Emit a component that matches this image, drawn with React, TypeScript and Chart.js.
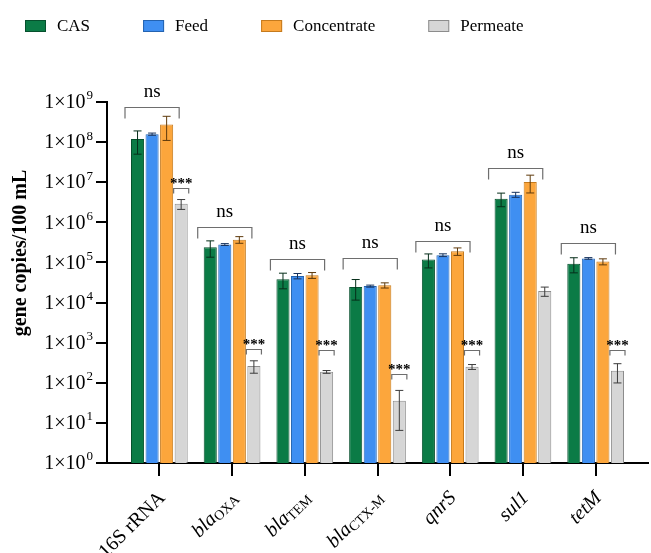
import React, { useEffect, useRef } from "react";
import { Chart, registerables } from "chart.js";

Chart.register(...registerables);

// Target genes (x categories)
const genes = ["16S rRNA", "blaOXA", "blaTEM", "blaCTX-M", "qnrS", "sul1", "tetM"];

// Gene label typography: [text, style] with r = regular, i = italic, s = subscript
const geneLabelParts: [string, string][][] = [
  [["16S rRNA", "r"]],
  [["bla", "i"], ["OXA", "s"]],
  [["bla", "i"], ["TEM", "s"]],
  [["bla", "i"], ["CTX-M", "s"]],
  [["qnrS", "i"]],
  [["sul1", "i"]],
  [["tetM", "i"]],
];

// Sample types
const sampleNames = ["CAS", "Feed", "Concentrate", "Permeate"];

// Gene copies / 100 mL (mean and standard deviation)
const casMean = [1.2e8, 2.4e5, 3.8e4, 2.45e4, 1.18e5, 3.9e6, 9.3e4];
const casSd = [7e7, 1.05e5, 1.6e4, 1.3e4, 4.5e4, 1.45e6, 3.8e4];
const feedMean = [1.58e8, 2.8e5, 4.6e4, 2.57e4, 1.52e5, 4.9e6, 1.26e5];
const feedSd = [1.0e7, 1.5e4, 7e3, 1.5e3, 1.2e4, 7e5, 6e3];
const concMean = [2.75e8, 3.7e5, 4.8e4, 2.7e4, 1.9e5, 1.02e7, 1.05e5];
const concSd = [1.65e8, 7e4, 8e3, 4e3, 4e4, 4.8e6, 1.8e4];
const permMean = [2.9e6, 263, 187, 35.5, 250, 1.93e4, 199];
const permSd = [8e5, 90, 15, 29, 35, 5e3, 100];

// Significance among CAS / Feed / Concentrate, and the level of its bracket
const groupTest = ["ns", "ns", "ns", "ns", "ns", "ns", "ns"];
const groupBracketLevel = [7.7e8, 7.7e5, 1.24e5, 1.31e5, 3.39e5, 2.27e7, 3.09e5];
// Significance of Permeate vs. the others, and the level of its bracket
const permTest = ["***", "***", "***", "***", "***", "", "***"];
const permBracketLevel = [7.2e6, 686, 658, 164, 646, 0, 658];

// Y axis decades (10^0 ... 10^9)
const yPowers = [0, 1, 2, 3, 4, 5, 6, 7, 8, 9];

const fillColors = ["#0b7b46", "#3f8ff2", "#fca63c", "#d6d6d6"];
const borderColors = ["#06502d", "#2463b0", "#c57a1d", "#8c8c8c"];
const errorColors = ["#062e1a", "#17335e", "#5e3a0c", "#3c3c3c"];

const SERIF = '"Liberation Serif", "Times New Roman", serif';

const decorations = {
  id: "decorations",
  afterDatasetsDraw(chart: any) {
    const { ctx } = chart;
    const ys = chart.scales.y;
    ctx.save();
    chart.data.datasets.forEach((ds: any, di: number) => {
      const meta = chart.getDatasetMeta(di);
      meta.data.forEach((bar: any, i: number) => {
        const m = ds.data[i].y;
        const s = ds.sd[i];
        const top = ys.getPixelForValue(m + s);
        const bot = ys.getPixelForValue(Math.max(m - s, ys.min));
        const cap = 4;
        ctx.strokeStyle = ds.errorColor;
        ctx.lineWidth = 1;
        ctx.beginPath();
        ctx.moveTo(bar.x, top);
        ctx.lineTo(bar.x, bot);
        ctx.moveTo(bar.x - cap, top);
        ctx.lineTo(bar.x + cap, top);
        ctx.moveTo(bar.x - cap, bot);
        ctx.lineTo(bar.x + cap, bot);
        ctx.stroke();
      });
    });
    ctx.restore();
  },
  afterDraw(chart: any) {
    const { ctx, chartArea } = chart;
    const ys = chart.scales.y;
    const xs = chart.scales.x;
    ctx.save();
    ctx.fillStyle = "#000";

    // Y tick labels: 1×10^n
    ctx.textBaseline = "middle";
    ctx.textAlign = "left";
    const rightEdge = chartArea.left - 14;
    yPowers.forEach((p) => {
      const py = ys.getPixelForValue(Math.pow(10, p));
      ctx.font = `20px ${SERIF}`;
      const base = "1×10";
      const wb = ctx.measureText(base).width;
      ctx.font = `13px ${SERIF}`;
      const sup = String(p);
      const ws = ctx.measureText(sup).width;
      const x0 = rightEdge - ws - wb - 1;
      ctx.font = `20px ${SERIF}`;
      ctx.fillText(base, x0, py + 1);
      ctx.font = `13px ${SERIF}`;
      ctx.fillText(sup, x0 + wb + 1, py - 6);
    });

    // Y axis title
    ctx.save();
    ctx.translate(21, 253);
    ctx.rotate(-Math.PI / 2);
    ctx.textAlign = "center";
    ctx.textBaseline = "middle";
    ctx.font = `bold 20px ${SERIF}`;
    ctx.fillText("gene copies/100 mL", 0, 0);
    ctx.restore();

    // X tick labels, rotated 45°
    const tickBottom = chartArea.bottom + 14;
    geneLabelParts.forEach((parts, i) => {
      const cx = xs.getPixelForValue(i + 1);
      const fontFor = (st: string) =>
        st === "i" ? `italic 20px ${SERIF}` : st === "s" ? `14px ${SERIF}` : `20px ${SERIF}`;
      let total = 0;
      const widths = parts.map(([t, st]) => {
        ctx.font = fontFor(st);
        const w = ctx.measureText(t).width;
        total += w;
        return w;
      });
      ctx.save();
      ctx.translate(cx + 3, tickBottom + 18);
      ctx.rotate(-Math.PI / 4);
      ctx.textAlign = "left";
      ctx.textBaseline = "middle";
      let x = -total;
      parts.forEach(([t, st], k) => {
        ctx.font = fontFor(st);
        ctx.fillText(t, x, st === "s" ? 4 : 0);
        x += widths[k];
      });
      ctx.restore();
    });

    // Significance brackets
    const casMeta = chart.getDatasetMeta(0);
    const concMeta = chart.getDatasetMeta(2);
    const permMeta = chart.getDatasetMeta(3);
    ctx.strokeStyle = "#6e6e6e";
    ctx.lineWidth = 1.2;
    genes.forEach((_, i) => {
      const a = casMeta.data[i];
      const c = concMeta.data[i];
      const left = a.x - a.width / 2 - 6;
      const right = c.x + c.width / 2 + 6;
      const yb = Math.round(ys.getPixelForValue(groupBracketLevel[i])) + 0.5;
      ctx.beginPath();
      ctx.moveTo(left, yb + 11);
      ctx.lineTo(left, yb);
      ctx.lineTo(right, yb);
      ctx.lineTo(right, yb + 11);
      ctx.stroke();
      ctx.font = `19px ${SERIF}`;
      ctx.textAlign = "center";
      ctx.textBaseline = "alphabetic";
      ctx.fillText(groupTest[i], (left + right) / 2, yb - 11);

      if (permTest[i]) {
        const p = permMeta.data[i];
        const l2 = p.x - p.width / 2 - 1;
        const r2 = p.x + p.width / 2 + 1;
        const y2 = Math.round(ys.getPixelForValue(permBracketLevel[i])) + 0.5;
        ctx.beginPath();
        ctx.moveTo(l2, y2 + 5);
        ctx.lineTo(l2, y2);
        ctx.lineTo(r2, y2);
        ctx.lineTo(r2, y2 + 5);
        ctx.stroke();
        ctx.font = `bold 15px ${SERIF}`;
        ctx.fillText(permTest[i], p.x, y2 - 1);
      }
    });

    // Legend
    ctx.textAlign = "left";
    ctx.textBaseline = "middle";
    ctx.font = `17px ${SERIF}`;
    let lx = 25;
    const ly = 26;
    chart.data.datasets.forEach((ds: any) => {
      ctx.fillStyle = ds.backgroundColor;
      ctx.fillRect(lx, ly - 6, 21, 12);
      ctx.strokeStyle = ds.borderColor;
      ctx.lineWidth = 1;
      ctx.strokeRect(lx + 0.5, ly - 5.5, 20, 11);
      ctx.fillStyle = "#000";
      ctx.fillText(ds.label, lx + 32, ly + 1);
      lx += 32 + ctx.measureText(ds.label).width + 53;
    });

    ctx.restore();
  },
};

export default function App() {
  const canvasRef = useRef<HTMLCanvasElement | null>(null);

  useEffect(() => {
    const canvas = canvasRef.current;
    if (!canvas) return;
    const means = [casMean, feedMean, concMean, permMean];
    const sds = [casSd, feedSd, concSd, permSd];
    const datasets = sampleNames.map((name, k) => ({
      label: name,
      data: genes.map((_, i) => ({ x: i + 1, y: means[k][i] })),
      sd: sds[k],
      errorColor: errorColors[k],
      backgroundColor: fillColors[k],
      borderColor: borderColors[k],
      borderWidth: 1,
      categoryPercentage: 0.8,
      barPercentage: 0.9,
    }));

    const chart = new Chart(canvas, {
      type: "bar",
      data: { datasets } as any,
      options: {
        responsive: false,
        animation: false,
        devicePixelRatio: 1,
        layout: { padding: { left: 96, right: 3, top: 102, bottom: 77 } },
        plugins: {
          legend: { display: false },
          tooltip: { enabled: false },
        },
        scales: {
          x: {
            type: "linear",
            min: 0.28,
            max: 7.72,
            offset: false,
            afterBuildTicks: (axis: any) => {
              axis.ticks = genes.map((_, i) => ({ value: i + 1 }));
            },
            ticks: { display: false },
            grid: {
              offset: false,
              drawOnChartArea: false,
              drawTicks: true,
              tickLength: 13,
              color: "#000",
              lineWidth: 2,
            },
            border: { color: "#000", width: 2 },
          },
          y: {
            type: "logarithmic",
            min: 1,
            max: 1e9,
            afterBuildTicks: (axis: any) => {
              axis.ticks = yPowers.map((p) => ({ value: Math.pow(10, p) }));
            },
            ticks: { display: false },
            grid: {
              drawOnChartArea: false,
              drawTicks: true,
              tickLength: 11,
              color: "#000",
              lineWidth: 2,
            },
            border: { color: "#000", width: 2 },
          },
        },
      } as any,
      plugins: [decorations],
    });
    return () => chart.destroy();
  }, []);

  return (
    <div style={{ position: "absolute", left: 0, top: 0, width: 651, height: 553, background: "#fff" }}>
      <canvas ref={canvasRef} width={651} height={553} style={{ display: "block" }} />
    </div>
  );
}
